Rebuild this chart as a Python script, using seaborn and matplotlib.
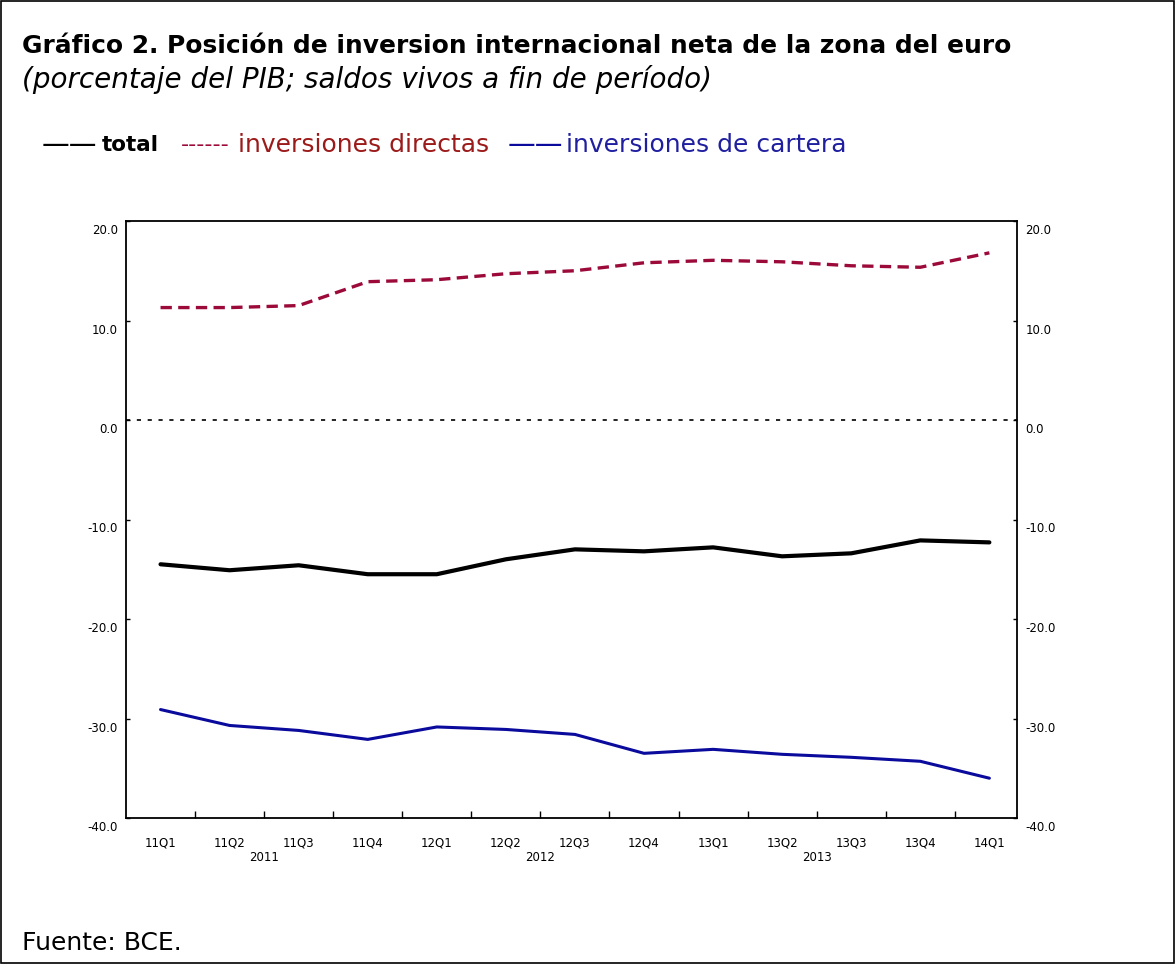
import matplotlib
matplotlib.use("Agg")
import matplotlib.pyplot as plt
import matplotlib.transforms as mtransforms
from matplotlib.patches import Rectangle
import pandas as pd
import seaborn as sns

# Data (porcentaje del PIB)
quarters = ["11Q1", "11Q2", "11Q3", "11Q4", "12Q1", "12Q2", "12Q3",
            "12Q4", "13Q1", "13Q2", "13Q3", "13Q4", "14Q1"]
years = ["2011", "2012", "2013"]
total = [-14.5, -15.1, -14.6, -15.5, -15.5, -14.0, -13.0,
         -13.2, -12.8, -13.7, -13.4, -12.1, -12.3]
directas = [11.3, 11.3, 11.5, 13.9, 14.1, 14.7, 15.0,
            15.8, 16.05, 15.9, 15.5, 15.35, 16.8]
cartera = [-29.1, -30.7, -31.2, -32.1, -30.85, -31.1, -31.6,
           -33.5, -33.1, -33.6, -33.9, -34.3, -36.0]
yticks = [20, 10, 0, -10, -20, -30, -40]

RED = "#9c0a3a"
BLUE = "#0a0a9c"

sns.set_style("white")
plt.rcParams["font.family"] = ["DejaVu Sans"]
plt.rcParams["text.color"] = "black"
plt.rcParams["xtick.color"] = "black"
plt.rcParams["ytick.color"] = "black"

df = pd.DataFrame({"pos": range(len(quarters)), "total": total,
                   "directas": directas, "cartera": cartera})

fig = plt.figure(figsize=(11.75, 9.64), dpi=100)
ax = fig.add_axes([126 / 1175, 1 - 818 / 964, (1017 - 126) / 1175, (818 - 221) / 964])

sns.lineplot(data=df, x="pos", y="directas", ax=ax, color=RED, linewidth=2.4,
             linestyle=(0, (3.4, 1.9)))
sns.lineplot(data=df, x="pos", y="total", ax=ax, color="black", linewidth=3.0)
sns.lineplot(data=df, x="pos", y="cartera", ax=ax, color=BLUE, linewidth=2.2)
ax.axhline(0, color="black", linewidth=1.2, linestyle=(0, (2.5, 4)))

ax.set_xlim(-0.5, 12.4)
ax.set_ylim(-40, 20)
ax.set_xlabel("")
ax.set_ylabel("")

for s in ax.spines.values():
    s.set_visible(True)
    s.set_color("black")
    s.set_linewidth(1.3)

ax.set_yticks(yticks)
ax.set_yticklabels([f"{v:.1f}" for v in yticks])
ax.tick_params(axis="y", which="both", direction="in", length=3, width=1,
               left=True, right=True, labelleft=True, labelright=True,
               labelsize=8.5, pad=6, labelcolor="black")
offset = mtransforms.ScaledTranslation(0, -0.08, fig.dpi_scale_trans)
for lbl in ax.get_yticklabels(which="both"):
    lbl.set_transform(lbl.get_transform() + offset)

ax.set_xticks(range(len(quarters)))
ax.set_xticklabels(quarters)
ax.set_xticks([i + 0.5 for i in range(len(quarters) - 1)], minor=True)
ax.tick_params(axis="x", which="major", length=0, pad=13, labelsize=8.5,
               labelcolor="black")
ax.tick_params(axis="x", which="minor", direction="in", length=5, width=1,
               bottom=True)

trans = mtransforms.blended_transform_factory(ax.transData, ax.transAxes)
for i, y in enumerate(years):
    ax.text(1.5 + 4 * i, -0.067, y, transform=trans, ha="center", va="center",
            fontsize=8.5, color="black")

# Title and subtitle
fig.text(22 / 1175, 1 - 46 / 964, "Gráfico 2. Posición de inversion internacional neta de la zona del euro",
         fontsize=17.9, fontweight="bold", va="center", ha="left")
fig.text(22 / 1175, 1 - 80 / 964, "(porcentaje del PIB; saldos vivos a fin de período)",
         fontsize=20, fontstyle="italic", va="center", ha="left")

# Legend drawn as text, like the original
ly = 1 - 145 / 964
fig.text(42 / 1175, ly, "——", fontsize=20, color="black", va="center")
fig.text(102 / 1175, ly, "total", fontsize=15.5, fontweight="bold", color="black", va="center")
fig.text(181 / 1175, ly, "------", fontsize=16, color=RED, va="center")
fig.text(238 / 1175, ly, "inversiones directas", fontsize=18, color="#9b1a1a", va="center")
fig.text(508 / 1175, ly, "——", fontsize=20, color=BLUE, va="center")
fig.text(566 / 1175, ly, "inversiones de cartera", fontsize=18, color="#1f1fa0", va="center")

fig.text(22 / 1175, 1 - 943 / 964, "Fuente: BCE.", fontsize=18, va="center", ha="left")

fig.patches.append(Rectangle((0.001, 0.001), 0.998, 0.998, transform=fig.transFigure,
                             fill=False, edgecolor="black", linewidth=1.2))

fig.savefig("out.png", dpi=100)
